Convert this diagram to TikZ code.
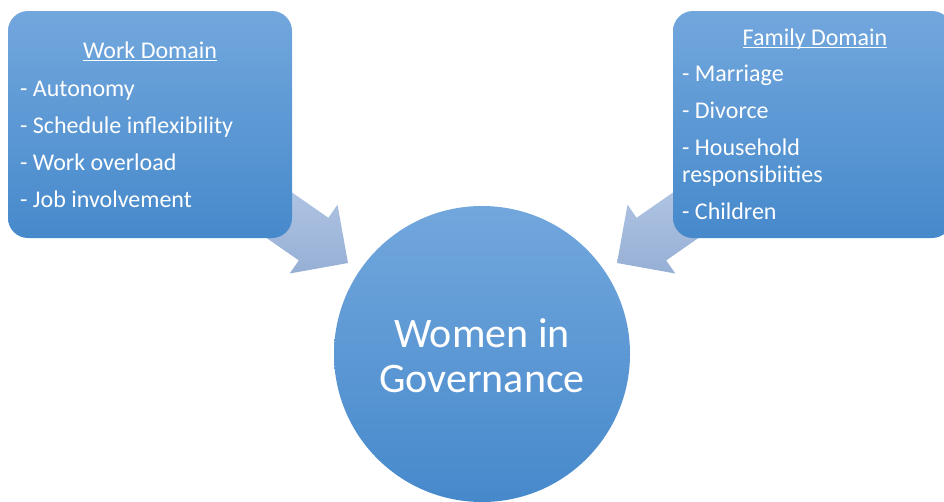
\documentclass[tikz,border=0pt]{standalone}
\usepackage{fontspec}
\setmainfont{Carlito}
\usepackage{tikz}
\usetikzlibrary{positioning}

\definecolor{boxtop}{RGB}{114,167,221}
\definecolor{boxbot}{RGB}{70,137,203}
\definecolor{arrtop}{RGB}{186,206,235}
\definecolor{arrbot}{RGB}{150,175,212}

% underline sitting just under the baseline, through the descenders
\newcommand{\domainhead}[1]{{\setbox0\hbox{#1}\rlap{\rule[-2.6pt]{\wd0}{0.9pt}}\box0}}

\begin{document}
\begin{tikzpicture}[x=1pt, y=-1pt,
    domainbox/.style={rounded corners=20pt, top color=boxtop, bottom color=boxbot, inner sep=0pt},
    headtext/.style={text=white, font=\fontsize{24pt}{37pt}\selectfont, inner sep=0pt},
    listtext/.style={text=white, align=left, font=\fontsize{24pt}{37pt}\selectfont, inner sep=0pt},
    feeder/.style={top color=arrtop, bottom color=arrbot}]
    \useasboundingbox (0,0) rectangle (944,501);

    % the two wide arrows go first, so the boxes cover their tails
    \shade[feeder] (348,263) -- (289.7,273.5) -- (298.8,260.4) -- (202,193.1)
        -- (231.6,150.5) -- (328.4,217.8) -- (337.5,204.7) -- cycle;
    \shade[feeder] (617,263) -- (675.3,273.5) -- (666.2,260.4) -- (763,193.1)
        -- (733.4,150.5) -- (636.6,217.8) -- (627.5,204.7) -- cycle;

    % work domain (list is placed by the baseline of its last line)
    \node[domainbox, minimum width=284pt, minimum height=227pt] (work) at (150,124.5) {};
    \node[headtext, anchor=base] (workhead) at (150,58) {\domainhead{Work Domain}};
    \node[listtext, anchor=base west] (worklist) at (20,207)
        {- Autonomy\\- Schedule inflexibility\\- Work overload\\- Job involvement};

    % family domain, runs off the right edge
    \node[domainbox, minimum width=279pt, minimum height=227pt] (family) at (812.5,124.5) {};
    \node[headtext, anchor=base] (familyhead) at (815,45) {\domainhead{Family Domain}};
    \node[listtext, anchor=base west] (familylist) at (682,219.5)
        {- Marriage\\- Divorce\\- Household\\[-10pt]responsibiities\\- Children};

    % centre circle
    \node[circle, minimum size=296pt, top color=boxtop, bottom color=boxbot,
        text=white, align=center, font=\fontsize{42pt}{45pt}\selectfont] (women) at (482,354) {};
    \node[text=white, align=center, font=\fontsize{42pt}{45pt}\selectfont, yshift=-2pt]
        (womentext) at (women) {Women in\\Governance};
\end{tikzpicture}
\end{document}
